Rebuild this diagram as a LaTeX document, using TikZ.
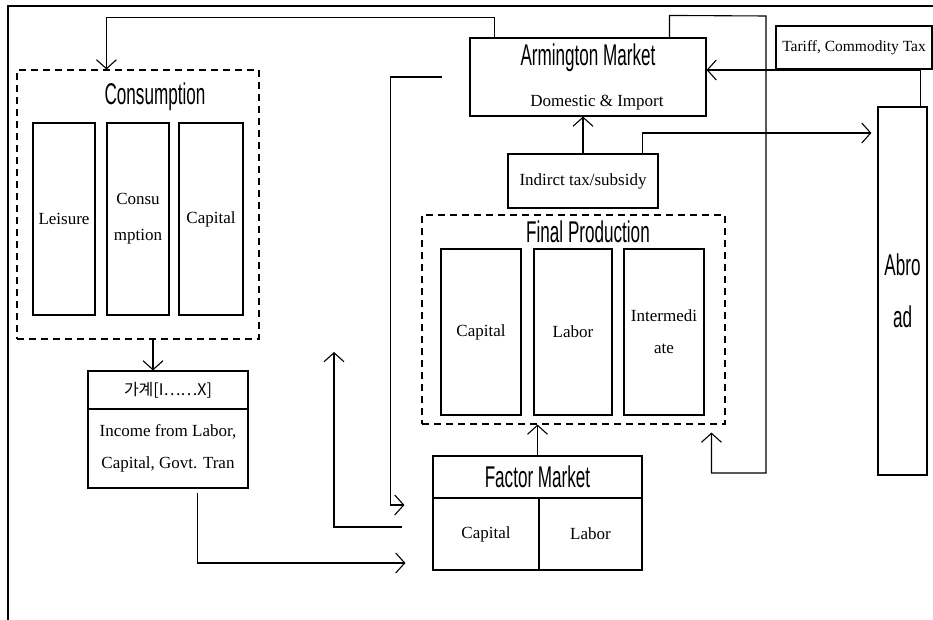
\documentclass[tikz,border=0pt]{standalone}
\usepackage{fontspec}
\setmainfont{Liberation Serif}
\newfontfamily\headfont[FakeStretch=0.57]{Liberation Sans}
\newfontfamily\kofont{Noto Sans CJK KR}
\usetikzlibrary{arrows.meta}

\begin{document}
\begin{tikzpicture}[x=1pt,y=-1pt,line width=1.1pt,
    arr/.style={-{Straight Barb[length=9pt,width=20pt]}},
    bx/.style={draw,inner sep=0pt,align=center,font=\fontsize{17}{19}\selectfont},
    group/.style={draw,dash pattern=on 7pt off 5pt,inner sep=0pt},
    head/.style={inner sep=0pt,font=\headfont\fontsize{30}{32}\selectfont},
    txt/.style={inner sep=0pt,align=center,font=\fontsize{17}{19}\selectfont}]

\useasboundingbox (0,0) rectangle (933,620);

% Frame
\draw (8,620) -- (8,6) -- (933,6);

% Consumption block
\node[group,minimum width=242pt,minimum height=269pt] (cons) at (138,204.5) {};
\node[head] (conslbl) at (155,97) {Consumption};
\node[bx,minimum width=62pt,minimum height=192pt] (leis) at (64,219) {Leisure};
\node[bx,minimum width=62pt,minimum height=192pt] (cnsm) at (138,219) {Consu\\[17pt]mption};
\node[bx,minimum width=64pt,minimum height=192pt] (ccap) at (211,219) {Capital};

% Household
\node[bx,minimum width=160pt,minimum height=38pt,font=\kofont\fontsize{16}{19}\selectfont] (hhtitle) at (168,390) {가계[I……X]};
\node[bx,minimum width=160pt,minimum height=79pt] (hhbody) at (168,448.5) {Income from Labor,\\[13pt]Capital, Govt. Tran};

% Armington market and taxes
\node[bx,minimum width=236pt,minimum height=78pt] (arm) at (588,77) {};
\node[head] (armlbl) at (588,58) {Armington Market};
\node[txt] (armsub) at (597,103) {Domestic \& Import};
\node[bx,minimum width=156pt,minimum height=43pt,font=\fontsize{15.5}{18}\selectfont] (tariff) at (854,47.5) {Tariff, Commodity Tax};
\node[bx,minimum width=150pt,minimum height=54pt] (indtax) at (583,181) {Indirct tax/subsidy};

% Abroad
\node[bx,minimum width=49pt,minimum height=368pt,font=\headfont\fontsize{30}{30}\selectfont] (abroad) at (902.5,291) {Abro\\[22pt]ad};

% Final production block
\node[group,minimum width=303pt,minimum height=209pt] (fp) at (573.5,319.5) {};
\node[head] (fplbl) at (588,232) {Final Production};
\node[bx,minimum width=80pt,minimum height=166pt] (fpcap) at (481,332) {Capital};
\node[bx,minimum width=78pt,minimum height=166pt] (fplab) at (573,332) {Labor};
\node[bx,minimum width=80pt,minimum height=166pt] (fpint) at (664,332) {Intermedi\\[13pt]ate};

% Factor market
\node[draw,inner sep=0pt,minimum width=209pt,minimum height=114pt] (fm) at (537.5,513) {};
\node[draw,head,minimum width=209pt,minimum height=42pt] (fmhd) at (537.5,477) {Factor Market};
\node[bx,minimum width=106pt,minimum height=72pt] (fmcap) at (486,534) {Capital};
\node[bx,minimum width=103pt,minimum height=72pt] (fmlab) at (590.5,534) {Labor};
\coordinate (fmfree) at (334,352);

% Flows
\draw[arr] ([xshift=25pt]arm.north west) -- ++(0,-20) -| ([xshift=90pt]cons.north west);
\draw[arr,shorten >=8pt] ([xshift=200pt]arm.north west) -- ++(0,-22) -- (766,16) -- (766,473) -| ([xshift=290pt]fp.south west);
\draw[arr] ([xshift=43pt]abroad.north west) |- ([yshift=7pt]arm.east);
\draw[arr] (indtax.north) -- (indtax.north |- arm.south);
\draw[arr,shorten >=6pt] ([xshift=135pt]indtax.north west) |- ([yshift=158pt]abroad.west);
\draw[arr] (fmhd.north) -- (fmhd.north |- fp.south);
\draw[arr] ([xshift=15pt]cons.south) -- ([xshift=-15pt]hhtitle.north);
\draw[arr,shorten <=4pt,shorten >=27pt] ([xshift=110pt]hhbody.south west) |- ([yshift=-50pt]fm.west);
\draw[arr,shorten <=27pt,shorten >=28pt] (arm.west) -- ++(-79,0) |- ([yshift=8pt]fm.west);
\draw[arr,shorten <=30pt] ([yshift=-14pt]fm.west) -| (fmfree);

\end{tikzpicture}
\end{document}
